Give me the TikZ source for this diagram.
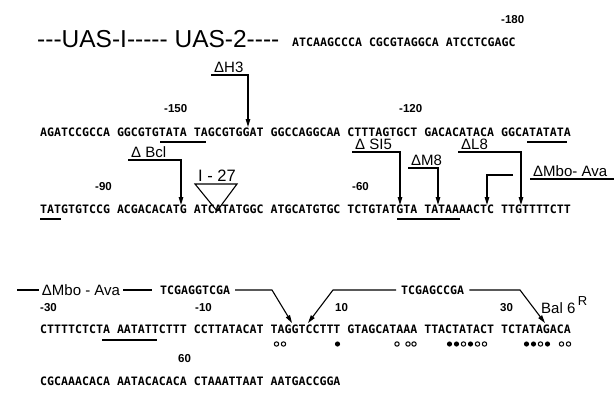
\documentclass[tikz,border=0pt]{standalone}
\usepackage{fontspec}
\setmainfont{Liberation Sans}[Ligatures=TeXOff]
\newfontfamily\uasf{Liberation Sans}[Ligatures=TeXOff]
\newfontfamily\seqf{DejaVu Sans Mono}
\usetikzlibrary{arrows.meta}
\begin{document}
\begin{tikzpicture}[x=1pt,y=-1pt,
  seq/.style={font=\seqf\bfseries\fontsize{11.6}{12}\selectfont, inner sep=0pt, anchor=base west},
  num/.style={font=\bfseries\fontsize{11.5}{12}\selectfont, inner sep=0pt, anchor=base west},
  lab/.style={font=\fontsize{15}{15}\selectfont, inner xsep=3pt, inner ysep=2pt, anchor=south west},
  ln/.style={line width=1.1pt},
  arr/.style={ln, -{Triangle[length=8pt,width=4.5pt]}},
  odot/.style={line width=1pt},
]
\useasboundingbox (0,0) rectangle (614,410);

% ---- row 1
\node[font=\uasf\fontsize{24.5}{25}\selectfont, inner sep=0pt, anchor=base west] (uas) at (37,47) {---UAS-I----- UAS-2----};
\node[seq] (r1) at (292,46) {ATCAAGCCCA CGCGTAGGCA ATCCTCGAGC};
\node[num] (n180) at (501,23) {-180};

% ---- row 2
\node[seq] (r2) at (40,136) {AGATCCGCCA GGCGTGTATA TAGCGTGGAT GGCCAGGCAA CTTTAGTGCT GACACATACA GGCATATATA};
\node[num] (n150) at (164,112) {-150};
\node[num] (n120) at (399,112) {-120};
\node[lab] (lH3) at (211,75) {ΔH3};
\coordinate (tH3) at (248,127);
\draw[arr] (lH3.south west) -| (tH3);
\draw[ln] (160,142) -- (206,142);
\draw[ln] (527,142) -- (567,142);

% ---- row 3
\node[seq] (r3) at (40,213) {TATGTGTCCG ACGACACATG ATCATATGGC ATGCATGTGC TCTGTATGTA TATAAAACTC TTGTTTTCTT};
\node[num] (n90) at (95,190) {-90};
\node[num] (n60) at (352,190) {-60};
\draw[ln] (40,219) -- (61,219);
\draw[ln] (397,219) -- (460,219);

\node[lab] (lBcl) at (128,160) {Δ Bcl};
\coordinate (tBcl) at (181,205);
\draw[arr] (lBcl.south west) -| (tBcl);

\node[font=\fontsize{16.5}{16.5}\selectfont, inner sep=1pt, anchor=south] (lI27) at (217,183) {I - 27};
\coordinate (tI27) at (217,211);
\draw[ln, line join=miter] (lI27.south west) ++(-2,1) coordinate (triL) -- (tI27) -- (lI27.south east |- triL) -- cycle;

\node[lab] (lS15) at (352,152) {Δ SI5};
\coordinate (tS15) at (400,205);
\draw[arr] (lS15.south west) -| (tS15);

\node[lab] (lM8) at (408,168) {ΔM8};
\coordinate (tM8) at (438,205);
\draw[arr] (lM8.south west) -| (tM8);

\node[lab] (lL8) at (458,152) {ΔL8};
\coordinate (tL8) at (521,205);
\draw[arr] (lL8.south west) -| (tL8);

\node[lab] (lMbo) at (530,179) {ΔMbo- Ava};
\coordinate (rEdge) at (614,179);
\draw[ln] (lMbo.south west) -- (rEdge);
\coordinate (mboS) at (513,175);
\coordinate (tMbo) at (487,205);
\draw[arr] (mboS) -| (tMbo);

% ---- row 4
\node[seq] (r4) at (40,333) {CTTTTCTCTA AATATTCTTT CCTTATACAT TAGGTCCTTT GTAGCATAAA TTACTATACT TCTATAGACA};
\node[num] (n30m) at (40,311) {-30};
\node[num] (n10m) at (195,311) {-10};
\node[num] (n10) at (335,311) {10};
\node[num] (n30) at (500,311) {30};
\draw[ln] (102,340) -- (157,340);

\coordinate (m0) at (17,290);
\node[font=\fontsize{15}{15}\selectfont, inner xsep=3pt, inner ysep=0pt, anchor=base] (mbo2) at (81,295.5) {ΔMbo - Ava};
\draw[ln] (m0) -- (m0 -| mbo2.west);
\draw[ln] (mbo2.east |- m0) -- (152,290);

\node[seq] (ins1) at (160,294) {TCGAGGTCGA};
\coordinate (tI1) at (292,323);
\draw[arr] (ins1.base east) ++(5,-4) -- (272,290) -- (tI1);

\node[seq] (ins2) at (401,294) {TCGAGCCGA};
\coordinate (tI2) at (308,323);
\coordinate (tI3) at (545,323);
\draw[arr] (ins2.base west) ++(-5,-4) -- (333,290) -- (tI2);
\draw[arr] (ins2.base east) ++(5,-4) -- (520,290) -- (tI3);

\node[font=\fontsize{15}{15}\selectfont, inner sep=0pt, anchor=base west] (bal) at (541,313) {Bal 6\,\raisebox{8pt}{\fontsize{13}{13}\selectfont R}};

% dots under row 4
\foreach \x in {276.5,283.5,397,408,414,463.5,477.5,484.5,540.5,561.5,568.5}
  \draw[odot] (\x,344) circle (2.2pt);
\foreach \x in {337.5,449.5,456.5,470.5,526.5,533.5,547.5}
  \fill (\x,344) circle (2.6pt);

% ---- row 5
\node[seq] (r5) at (40,385) {CGCAAACACA AATACACACA CTAAATTAAT AATGACCGGA};
\node[num] (n60p) at (178,362) {60};
\end{tikzpicture}
\end{document}
